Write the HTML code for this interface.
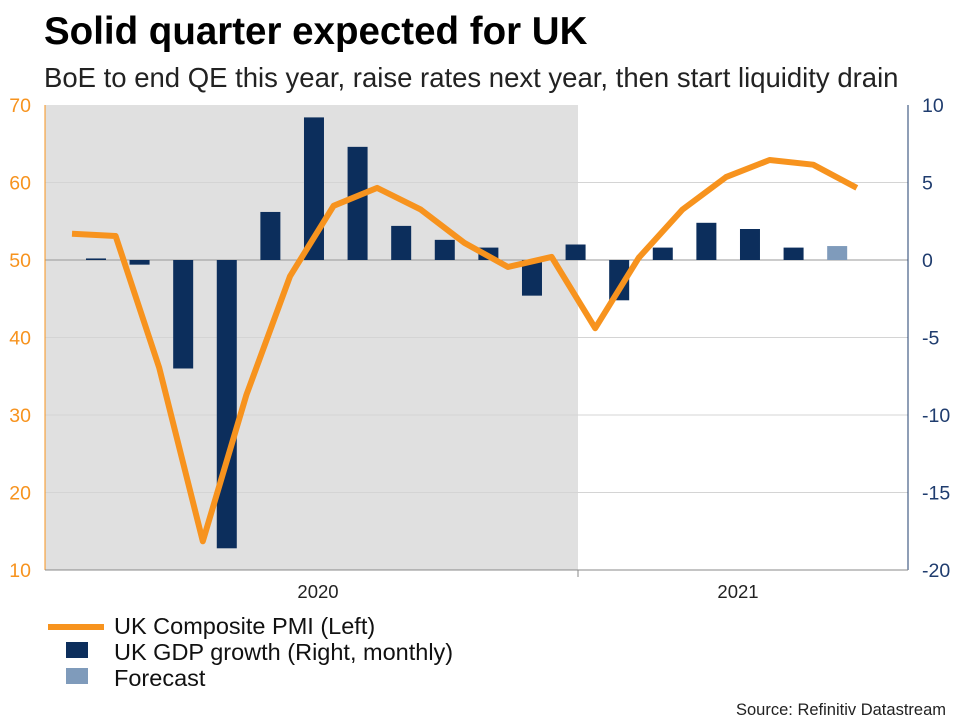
<!DOCTYPE html>
<html><head><meta charset="utf-8"><style>
body{margin:0;background:#fff;font-family:"Liberation Sans",sans-serif;}
</style></head><body>
<svg id="chart" width="960" height="720" xmlns="http://www.w3.org/2000/svg">
<text x="44" y="44" font-size="38.5" font-weight="bold" fill="#000">Solid quarter expected for UK</text>
<text x="44" y="87" font-size="27.5" fill="#222">BoE to end QE this year, raise rates next year, then start liquidity drain</text>
<rect x="45" y="105" width="533" height="465" fill="#e0e0e0"/>
<g id="grid"></g><g id="bars"></g><g id="line"></g><g id="axes"></g>
<text x="946" y="715" font-size="16.5" fill="#222" text-anchor="end">Source: Refinitiv Datastream</text>
<g>
<line x1="48" y1="627" x2="104" y2="627" stroke="#f7931e" stroke-width="6"/>
<text x="114" y="634" font-size="23.5" fill="#111">UK Composite PMI (Left)</text>
<rect x="66" y="642" width="22" height="16" fill="#0c2e5c"/>
<text x="114" y="660" font-size="23.5" fill="#111">UK GDP growth (Right, monthly)</text>
<rect x="66" y="668" width="22" height="16" fill="#7f9bbb"/>
<text x="114" y="686" font-size="23.5" fill="#111">Forecast</text>
</g>
</svg>
<script>
const pmiValues=[53.4,53.1,36.1,13.7,32.6,47.9,57.0,59.3,56.5,52.2,49.1,50.4,41.2,50.3,56.5,60.7,62.9,62.3,59.3];
const gdpValues=[0.1,-0.3,-7.0,-18.6,3.1,9.2,7.3,2.2,1.3,0.8,-2.3,1.0,-2.6,0.8,2.4,2.0,0.8,0.9];
const gdpForecast=[false,false,false,false,false,false,false,false,false,false,false,false,false,false,false,false,false,true];
const leftTicks=[10,20,30,40,50,60,70];
const rightTicks=[-20,-15,-10,-5,0,5,10];
const yearLabels=["2020","2021"];
const NS="http://www.w3.org/2000/svg";
const X0=45,X1=908,Y0=105,Y1=570;
const xPos=t=>72+43.6*t;
const yL=v=>Y1-(v-10)/60*(Y1-Y0);
const yR=v=>Y1-(v+20)/30*(Y1-Y0);
function mk(tag,attrs,parent,txt){const e=document.createElementNS(NS,tag);for(const k in attrs)e.setAttribute(k,attrs[k]);if(txt!==undefined)e.textContent=txt;document.getElementById(parent).appendChild(e);return e;}
leftTicks.forEach((v,i)=>{
 if(v>10&&v<70){const g=mk('line',{x1:X0,x2:X1,y1:yL(v),y2:yL(v),stroke:v===50?'#999':'#d4d4d4','stroke-width':1},'grid');
 
 }
 const t=mk('text',{x:31,y:yL(v)+7,'font-size':19.5,fill:'#f7931e','text-anchor':'end'},'axes',String(v));
 
 
});
rightTicks.forEach(v=>{
 const t=mk('text',{x:922,y:yR(v)+7,'font-size':19.5,fill:'#1f3c6e'},'axes',String(v));
 
 
});
gdpValues.forEach((v,i)=>{
 const x=xPos(i+0.55),y=yR(Math.max(v,0)),h=Math.abs(yR(v)-yR(0));
 const r=mk('rect',{x:x-10,y:y,width:20,height:Math.max(h,1),fill:gdpForecast[i]?'#7f9bbb':'#0c2e5c'},'bars');
 
 
});
const pts=pmiValues.map((v,i)=>xPos(i).toFixed(1)+','+yL(v).toFixed(1)).join(' ');
const pl=mk('polyline',{points:pts,fill:'none',stroke:'#f7931e','stroke-width':6,'stroke-linejoin':'round'},'line');


const a1=mk('line',{x1:X0,x2:X0,y1:Y0,y2:Y1,stroke:'#f7931e','stroke-width':1},'axes');


const a2=mk('line',{x1:X1,x2:X1,y1:Y0,y2:Y1,stroke:'#1f3c6e','stroke-width':1},'axes');


const a3=mk('line',{x1:X0,x2:X1,y1:Y1,y2:Y1,stroke:'#888','stroke-width':1},'axes');


const tk=mk('line',{x1:578,x2:578,y1:Y1,y2:Y1+7,stroke:'#888'},'axes');


[318,738].forEach((x,i)=>{
 const t=mk('text',{x:x,y:598,'font-size':18.5,fill:'#222','text-anchor':'middle'},'axes',yearLabels[i]);
 
 
});
</script>
</body></html>
